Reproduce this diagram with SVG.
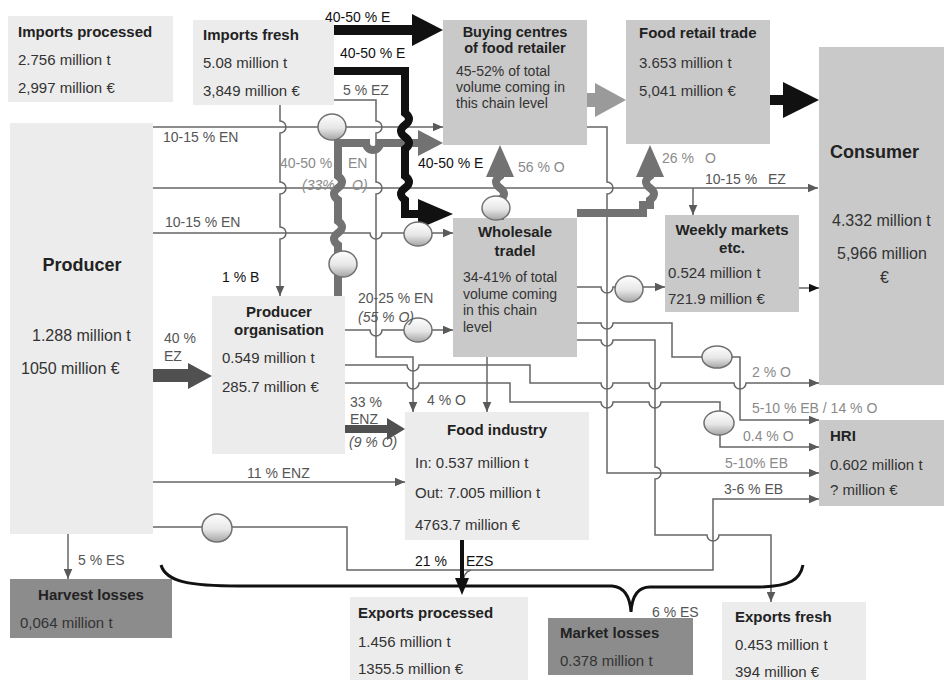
<svg xmlns="http://www.w3.org/2000/svg" width="944" height="680" viewBox="0 0 944 680">
<defs>
<linearGradient id="cg" x1="0" y1="0" x2="0" y2="1"><stop offset="0" stop-color="#ffffff"/><stop offset="0.55" stop-color="#e6e6e6"/><stop offset="1" stop-color="#a5a5a5"/></linearGradient>
<marker id="ah" markerWidth="11" markerHeight="9" refX="10.5" refY="4.5" orient="auto" markerUnits="userSpaceOnUse"><path d="M0,0 L10.5,4.5 L0,9 z" fill="#5a5a5a"/></marker>
<marker id="ahk" markerWidth="11" markerHeight="9" refX="10.5" refY="4.5" orient="auto" markerUnits="userSpaceOnUse"><path d="M0,0 L10.5,4.5 L0,9 z" fill="#111"/></marker>
</defs>
<style>
.lt{fill:#ececec}.md{fill:#c9c9c9}.dk{fill:#8c8c8c}
text{font-family:"Liberation Sans",Arial,Helvetica,sans-serif}
.v{font-size:15px;fill:#333}
.w{font-size:14px;fill:#333}
.h{font-size:15px;font-weight:bold;fill:#222}
.hs{font-size:14.5px}
.H{font-size:18px;font-weight:bold;fill:#222}
.P{font-size:16px;fill:#333}
.l{font-size:14px;fill:#555}
.lg{font-size:14px;fill:#8a8a8a}
.lk{font-size:14px;fill:#111}
.i{font-style:italic}
.c{text-anchor:middle}
.ln{fill:none;stroke:#666;stroke-width:1.5}
.tg{fill:none;stroke:#727272;stroke-width:8}
.tk{fill:none;stroke:#111;stroke-width:8}
.circ{fill:url(#cg);stroke:#707070;stroke-width:1.5}
</style>
<rect width="944" height="680" fill="#ffffff"/>

<g id="imports-processed"><rect class="lt" x="8" y="16" width="165" height="86"/>
<text class="h" x="18" y="37">Imports processed</text><text class="v" x="18" y="65">2.756 million t</text><text class="v" x="18" y="93">2,997 million €</text></g>
<g id="imports-fresh"><rect class="lt" x="193" y="20" width="141" height="85"/>
<text class="h" x="203" y="40">Imports fresh</text><text class="v" x="203" y="68">5.08 million t</text><text class="v" x="203" y="96">3,849 million €</text></g>
<g id="buying-centres"><rect class="md" x="443" y="20" width="144" height="125"/>
<text class="h hs c" x="515" y="37">Buying centres</text><text class="h hs c" x="515" y="53">of food retailer</text>
<text class="w" x="456" y="76">45-52% of total</text><text class="w" x="456" y="92">volume coming in</text><text class="w" x="456" y="108">this chain level</text></g>
<g id="food-retail"><rect class="md" x="626" y="20" width="144" height="124"/>
<text class="h" x="639" y="38">Food retail trade</text><text class="v" x="639" y="68">3.653 million t</text><text class="v" x="639" y="96">5,041 million €</text></g>
<g id="consumer"><rect class="md" x="819" y="47" width="125" height="338"/>
<text class="H" x="830" y="158">Consumer</text><text class="P" x="832" y="226">4.332 million t</text><text class="P" x="837" y="259">5,966 million</text><text class="P" x="880" y="283">€</text></g>
<g id="producer"><rect class="lt" x="10" y="123" width="143" height="411"/>
<text class="H c" x="82" y="271">Producer</text><text class="P" x="32" y="341">1.288 million t</text><text class="P" x="21" y="374">1050 million €</text></g>
<g id="producer-organisation"><rect class="lt" x="212" y="296" width="133" height="158"/>
<text class="h c" x="279" y="317">Producer</text><text class="h c" x="279" y="335">organisation</text>
<text class="v" x="222" y="363">0.549 million t</text><text class="v" x="222" y="392">285.7 million €</text></g>
<g id="wholesale"><rect class="md" x="453" y="218" width="124" height="139"/>
<text class="h c" x="515" y="237">Wholesale</text><text class="h c" x="515" y="256">tradel</text>
<text class="w" x="463" y="282">34-41% of total</text><text class="w" x="463" y="299">volume coming</text><text class="w" x="463" y="315">in this  chain</text><text class="w" x="463" y="332">level</text></g>
<g id="weekly-markets"><rect class="md" x="665" y="215" width="134" height="97"/>
<text class="h c" x="732" y="235">Weekly markets</text><text class="h c" x="732" y="253">etc.</text>
<text class="v" x="668" y="278">0.524 million t</text><text class="v" x="668" y="304">721.9 million €</text></g>
<g id="food-industry"><rect class="lt" x="405" y="412" width="184" height="128"/>
<text class="h c" x="497" y="435">Food industry</text><text class="v" x="415" y="468">In: 0.537 million t</text><text class="v" x="415" y="498">Out: 7.005 million t</text><text class="v" x="415" y="530">4763.7 million €</text></g>
<g id="hri"><rect class="md" x="819" y="420" width="125" height="86"/>
<text class="h" x="830" y="441">HRI</text><text class="v" x="830" y="470">0.602 million t</text><text class="v" x="830" y="495">? million €</text></g>
<g id="harvest-losses"><rect class="dk" x="10" y="579" width="162" height="59"/>
<text class="h c" x="91" y="600">Harvest losses</text><text class="v" x="20" y="628">0,064 million t</text></g>
<g id="exports-processed"><rect class="lt" x="350" y="597" width="178" height="83"/>
<text class="h" x="358" y="618">Exports processed</text><text class="v" x="358" y="647">1.456 million t</text><text class="v" x="358" y="674">1355.5 million €</text></g>
<g id="market-losses"><rect class="dk" x="548" y="618" width="145" height="57"/>
<text class="h" x="560" y="638">Market losses</text><text class="v" x="560" y="666">0.378 million t</text></g>
<g id="exports-fresh"><rect class="lt" x="722" y="602" width="144" height="78"/>
<text class="h" x="735" y="622">Exports fresh</text><text class="v" x="735" y="650">0.453 million t</text><text class="v" x="735" y="677">394 million €</text></g>

<g id="connectors">
<path class="ln" d="M153,127 H443" marker-end="url(#ah)"/>
<path class="ln" d="M153,188 H818" marker-end="url(#ah)"/>
<path class="ln" d="M693,188 V215" marker-end="url(#ah)"/>
<path class="ln" d="M153,233 H370 a6,6 0 0 0 12,0 H453" marker-end="url(#ah)"/>
<path class="ln" d="M280,105 V121 a6,6 0 0 1 0,12 V182 a6,6 0 0 1 0,12 V227 a6,6 0 0 1 0,12 V296" marker-end="url(#ah)"/>
<path class="ln" d="M334,100 H376 V121 a6,6 0 0 1 0,12 V182 a6,6 0 0 1 0,12 V357 H413 V412" marker-end="url(#ah)"/>
<path class="ln" d="M345,330 H370 a6,6 0 0 0 12,0 H453" marker-end="url(#ah)"/>
<path class="ln" d="M345,365 H407 a6,6 0 0 0 12,0 H530 V383 H601 a6,6 0 0 0 12,0 H649 a6,6 0 0 0 12,0 H734 a6,6 0 0 0 12,0 H819" marker-end="url(#ah)"/>
<path class="ln" d="M345,383 H407 a6,6 0 0 0 12,0 H510 V402 H601 a6,6 0 0 0 12,0 H649 a6,6 0 0 0 12,0 H720 V447 H819" marker-end="url(#ah)"/>
<path class="ln" d="M153,482 H405" marker-end="url(#ah)"/>
<path class="ln" d="M153,527 H347 V570 H713 V499 H819" marker-end="url(#ah)"/>
<path class="ln" d="M471,570 Q463,572 463,584"/>
<path class="ln" d="M587,127 H607 V182 a6,6 0 0 1 0,12 V473 H819" marker-end="url(#ah)"/>
<path class="ln" d="M577,287 H601 a6,6 0 0 0 12,0 H665" marker-end="url(#ah)"/>
<path class="ln" d="M577,323 H601 a6,6 0 0 0 12,0 H672 V357 H740 V420 H819" marker-end="url(#ah)"/>
<path class="ln" d="M577,340 H601 a6,6 0 0 0 12,0 H655 V467 a6,6 0 0 1 0,12 V535 H707 a6,6 0 0 0 12,0 H771 V602" marker-end="url(#ah)"/>
<path class="ln" d="M487,357 V412" marker-end="url(#ah)"/>
<path class="ln" d="M799,288 H819" stroke="#111" marker-end="url(#ahk)"/>
<path class="ln" d="M68,534 V579" marker-end="url(#ah)"/>

<path class="tg" d="M338,296 V245 q-8,-6 0,-12 q8,-6 0,-12 V200 q-8,-6 0,-12 q8,-6 0,-12 V143 H366 a7,7 0 0 0 14,0 H420"/>
<polygon points="418,130 443,143 418,156" fill="#727272"/>
<path class="tk" d="M334,71 H405 V113 q8,6 0,12 q-8,6 0,12 q8,6 0,12 V176 q8,6 0,12 q-8,6 0,12 V214 H420"/>
<polygon points="418,199 453,214 418,229" fill="#111"/>
<rect x="334" y="25" width="80" height="10" fill="#111"/>
<polygon points="412,14 443,30 412,46" fill="#111"/>
<path class="tg" d="M500,220 V200 q8,-6 0,-12 q-8,-6 0,-12 V175"/>
<polygon points="486,177 500,145 514,177" fill="#727272"/>
<path class="tg" d="M577,213 H643 V205 H650 V200 q8,-6 0,-12 q-8,-6 0,-12 V175"/>
<polygon points="636,177 650,145 664,177" fill="#727272"/>
<rect x="587" y="93" width="10" height="14" fill="#9a9a9a"/>
<polygon points="595,83 626,100 595,117" fill="#9a9a9a"/>
<rect x="770" y="95" width="15" height="10" fill="#111"/>
<polygon points="783,82 819,100 783,118" fill="#111"/>
<rect x="153" y="369" width="37" height="13" fill="#505050"/>
<polygon points="188,363 212,376 188,389" fill="#505050"/>
<rect x="345" y="425" width="44" height="8" fill="#505050"/>
<polygon points="387,418 405,429 387,440" fill="#505050"/>
<path d="M462,540 V580" stroke="#111" stroke-width="4" fill="none"/>
<polygon points="455,578 462,595 469,578" fill="#111"/>
<path d="M161,565 C166,582 190,586 240,586 H612 C624,587 630,596 631,612 C632,596 638,587 650,587 H760 C790,586 800,580 803,565" fill="none" stroke="#111" stroke-width="3"/>

<ellipse class="circ" cx="332" cy="127" rx="14" ry="13"/>
<ellipse class="circ" cx="343" cy="264" rx="14" ry="13"/>
<ellipse class="circ" cx="418" cy="234" rx="14" ry="12"/>
<ellipse class="circ" cx="496" cy="208" rx="14" ry="12"/>
<ellipse class="circ" cx="418" cy="330" rx="14" ry="12"/>
<ellipse class="circ" cx="629" cy="289" rx="14" ry="13"/>
<ellipse class="circ" cx="717" cy="357" rx="15" ry="11"/>
<ellipse class="circ" cx="719" cy="423" rx="15" ry="12"/>
<ellipse class="circ" cx="217" cy="528" rx="15" ry="14"/>

<text class="lk" x="325" y="22">40-50 % E</text>
<text class="lk" x="340" y="58">40-50 % E</text>
<text class="l" x="343" y="95">5 % EZ</text>
<text class="l" x="163" y="142">10-15 % EN</text>
<text class="lg" x="280" y="168">40-50 %</text><text class="lg" x="348" y="168">EN</text>
<text class="lg i" x="302" y="190">(33%</text><text class="lg i" x="352" y="190">O)</text>
<text class="lk" x="418" y="168">40-50 % E</text>
<text class="lg" x="518" y="172">56 % O</text>
<text class="lg" x="662" y="163">26 %</text><text class="lg" x="705" y="163">O</text>
<text class="l" x="705" y="184">10-15 %</text><text class="l" x="768" y="184">EZ</text>
<text class="l" x="165" y="227">10-15 % EN</text>
<text class="lk" x="222" y="282">1 % B</text>
<text class="l" x="358" y="303">20-25 % EN</text>
<text class="l i" x="358" y="322">(55 % O)</text>
<text class="l" x="164" y="343">40 %</text><text class="l" x="164" y="361">EZ</text>
<text class="l" x="427" y="405">4 % O</text>
<text class="l" x="350" y="407">33 %</text><text class="l" x="350" y="424">ENZ</text>
<text class="l i" x="349" y="447">(9 % O)</text>
<text class="lg" x="752" y="377">2 % O</text>
<text class="lg" x="752" y="413">5-10 % EB / 14 % O</text>
<text class="lg" x="743" y="441">0.4 % O</text>
<text class="lg" x="725" y="468">5-10% EB</text>
<text class="l" x="724" y="494">3-6 % EB</text>
<text class="l" x="247" y="478">11 % ENZ</text>
<text class="lk" x="415" y="566">21 %</text><text class="lk" x="466" y="566">EZS</text>
<text class="l" x="78" y="565">5 % ES</text>
<text class="l" x="652" y="617">6 % ES</text>
</g>
</svg>
